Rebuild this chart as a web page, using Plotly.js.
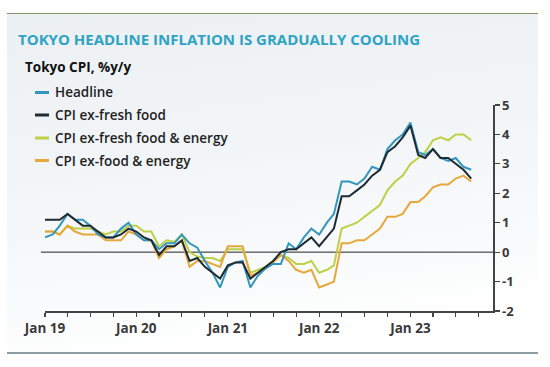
<!DOCTYPE html>
<html>
<head>
<meta charset="utf-8">
<script src="https://cdn.plot.ly/plotly-3.0.1.min.js"></script>
<style>
  html, body { margin: 0; padding: 0; background: #ffffff; }
  #wrap { position: relative; width: 550px; height: 367px; overflow: hidden; }
  #panel { position: absolute; left: 7px; top: 13px; width: 531px; height: 338px;
           border-top: 1.5px solid #8d9266; border-bottom: 2px solid #8f9da3;
           background: linear-gradient(172deg, #ebf0f3 0%, #f2f5f7 40%, #f9fafb 70%, #ffffff 90%); }
  #chart { position: absolute; left: 0; top: 0; width: 550px; height: 367px; }
</style>
</head>
<body>
<div id="wrap">
  <div id="panel"></div>
  <div id="chart"></div>
</div>
<script>
// ---- data (Jan 2019 - Sep 2023, %y/y) ----
const months = [
  '2019-01','2019-02','2019-03','2019-04','2019-05','2019-06','2019-07','2019-08','2019-09','2019-10','2019-11','2019-12',
  '2020-01','2020-02','2020-03','2020-04','2020-05','2020-06','2020-07','2020-08','2020-09','2020-10','2020-11','2020-12',
  '2021-01','2021-02','2021-03','2021-04','2021-05','2021-06','2021-07','2021-08','2021-09','2021-10','2021-11','2021-12',
  '2022-01','2022-02','2022-03','2022-04','2022-05','2022-06','2022-07','2022-08','2022-09','2022-10','2022-11','2022-12',
  '2023-01','2023-02','2023-03','2023-04','2023-05','2023-06','2023-07','2023-08','2023-09'
];
const seriesNames = ['Headline', 'CPI ex-fresh food', 'CPI ex-fresh food & energy', 'CPI ex-food & energy'];
const headline = [
  0.5, 0.6, 0.9, 1.3, 1.1, 1.1, 0.9, 0.6, 0.5, 0.5, 0.8, 1.0,
  0.6, 0.4, 0.4, 0.1, 0.3, 0.3, 0.6, 0.3, 0.15, -0.3, -0.7, -1.2,
  -0.5, -0.35, -0.3, -1.2, -0.8, -0.55, -0.4, -0.4, 0.3, 0.1, 0.5, 0.8,
  0.6, 1.0, 1.3, 2.4, 2.4, 2.3, 2.5, 2.9, 2.8, 3.5, 3.8, 4.0,
  4.4, 3.4, 3.3, 3.5, 3.2, 3.1, 3.2, 2.9, 2.8
];
const exFreshFood = [
  1.1, 1.1, 1.1, 1.3, 1.1, 0.9, 0.9, 0.7, 0.5, 0.5, 0.6, 0.8,
  0.7, 0.5, 0.4, -0.1, 0.2, 0.2, 0.4, -0.3, -0.2, -0.5, -0.7, -0.9,
  -0.45, -0.35, -0.35, -0.9, -0.7, -0.5, -0.3, 0.0, 0.1, 0.1, 0.3, 0.5,
  0.2, 0.5, 0.8, 1.9, 1.9, 2.1, 2.3, 2.6, 2.8, 3.4, 3.6, 3.9,
  4.3, 3.3, 3.2, 3.5, 3.2, 3.2, 3.0, 2.8, 2.5
];
const exFreshFoodEnergy = [
  0.7, 0.7, 0.6, 0.9, 0.8, 0.8, 0.8, 0.7, 0.6, 0.7, 0.7, 0.9,
  0.9, 0.7, 0.7, 0.2, 0.4, 0.35, 0.6, 0.0, -0.15, -0.2, -0.2, -0.3,
  0.1, 0.1, 0.1, -0.7, -0.6, -0.5, -0.3, -0.1, -0.2, -0.4, -0.4, -0.3,
  -0.7, -0.6, -0.45, 0.8, 0.9, 1.0, 1.2, 1.4, 1.6, 2.1, 2.4, 2.6,
  3.0, 3.2, 3.4, 3.8, 3.9, 3.8, 4.0, 4.0, 3.8
];
const exFoodEnergy = [
  0.7, 0.7, 0.6, 0.9, 0.7, 0.6, 0.6, 0.6, 0.4, 0.4, 0.4, 0.7,
  0.6, 0.4, 0.4, -0.2, 0.1, 0.2, 0.4, -0.5, -0.3, -0.3, -0.4, -0.5,
  0.2, 0.2, 0.2, -0.8, -0.7, -0.55, -0.35, -0.1, -0.3, -0.6, -0.7, -0.6,
  -1.2, -1.1, -1.0, 0.3, 0.3, 0.4, 0.4, 0.6, 0.8, 1.2, 1.2, 1.3,
  1.7, 1.7, 1.9, 2.2, 2.3, 2.3, 2.5, 2.6, 2.4
];
const xTickVals = [
  '2019-01-01','2019-04-01','2019-07-01','2019-10-01',
  '2020-01-01','2020-04-01','2020-07-01','2020-10-01',
  '2021-01-01','2021-04-01','2021-07-01','2021-10-01',
  '2022-01-01','2022-04-01','2022-07-01','2022-10-01',
  '2023-01-01','2023-04-01','2023-07-01','2023-10-01'
];
const xTickText = [
  'Jan 19','','','',
  'Jan 20','','','',
  'Jan 21','','','',
  'Jan 22','','','',
  'Jan 23','','',''
];
const yTickVals = [-2, -1, 0, 1, 2, 3, 4, 5];
const yTickText = ['-2', '-1', '0', '1', '2', '3', '4', '5'];

const titleText = 'TOKYO HEADLINE INFLATION IS GRADUALLY COOLING';
const subtitleText = 'Tokyo CPI, %y/y';

// ---- styling ----
const colors = ['#3396bf', '#1e2b33', '#bdd046', '#e6a83a'];
const seriesData = [headline, exFreshFood, exFreshFoodEnergy, exFoodEnergy];
const drawOrder = [2, 3, 0, 1];

const W = 550, H = 367, L = 45, R = 57, T = 105, B = 56;
const px2x = px => (px - L) / (W - L - R);
const px2y = py => (H - B - py) / (H - T - B);

const FONT = 'Open Sans, Roboto, Arial, sans-serif';

const traces = drawOrder.map(i => ({
  type: 'scatter',
  mode: 'lines',
  name: seriesNames[i],
  x: months,
  y: seriesData[i],
  line: { color: colors[i], width: 2 },
  showlegend: false,
  hoverinfo: 'skip'
}));

// zero line (starts a little left of the axis, like the reference)
const shapes = [{
  type: 'line', xref: 'paper', yref: 'y', layer: 'below',
  x0: px2x(41), x1: 1, y0: 0, y1: 0,
  line: { color: '#222222', width: 1 }
}];
// custom legend (short line swatches, like the reference)
const legendY = [92.5, 115, 138, 160.5];
seriesNames.forEach((n, i) => shapes.push({
  type: 'line', xref: 'paper', yref: 'paper',
  x0: px2x(35), x1: px2x(49), y0: px2y(legendY[i]), y1: px2y(legendY[i]),
  line: { color: colors[i], width: 3 }
}));
const annotations = seriesNames.map((n, i) => ({
  text: n, xref: 'paper', yref: 'paper',
  x: px2x(53), y: px2y(legendY[i]), xanchor: 'left', yanchor: 'middle',
  showarrow: false,
  font: { family: FONT, size: 13.5, color: '#1f1f1f', weight: 600 }
}));
annotations.push({
  text: subtitleText, xref: 'paper', yref: 'paper',
  x: px2x(23), y: px2y(67), xanchor: 'left', yanchor: 'middle',
  showarrow: false,
  font: { family: FONT, size: 13.5, color: '#111111', weight: 700 }
});

const layout = {
  width: W, height: H,
  margin: { l: L, r: R, t: T, b: B, pad: 0 },
  paper_bgcolor: 'rgba(0,0,0,0)',
  plot_bgcolor: 'rgba(0,0,0,0)',
  showlegend: false,
  title: {
    text: titleText,
    xref: 'container', yref: 'container',
    x: 18 / W, y: 1 - 40 / H, xanchor: 'left', yanchor: 'middle',
    font: { family: FONT, size: 15, color: '#2ea3c5', weight: 700 }
  },
  xaxis: {
    type: 'date',
    range: ['2019-01-01', '2023-11-27'],
    tickmode: 'array', tickvals: xTickVals, ticktext: xTickText,
    ticks: 'outside', ticklen: 4, tickwidth: 1.2, tickcolor: '#444',
    showline: true, linecolor: '#444', linewidth: 1.5,
    showgrid: false, zeroline: false,
    tickfont: { family: FONT, size: 13.5, color: '#3a3a3a', weight: 700 },
    fixedrange: true
  },
  yaxis: {
    side: 'right',
    range: [-2, 5],
    tickmode: 'array', tickvals: yTickVals, ticktext: yTickText,
    ticks: 'outside', ticklen: 5, tickwidth: 1.2, tickcolor: '#444',
    showline: true, linecolor: '#444', linewidth: 1.5,
    showgrid: false,
    zeroline: false,
    tickfont: { family: FONT, size: 13, color: '#3a3a3a', weight: 700 },
    fixedrange: true
  },
  shapes: shapes,
  annotations: annotations
};

Plotly.newPlot('chart', traces, layout, { displayModeBar: false, staticPlot: true });
</script>
</body>
</html>
